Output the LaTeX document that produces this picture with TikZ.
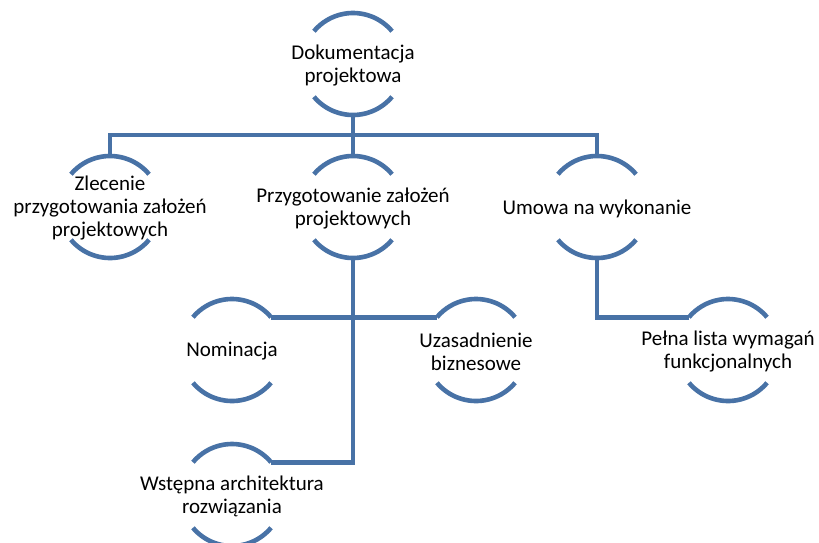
\documentclass[tikz,border=0pt]{standalone}
\usepackage{fontspec}
\setmainfont{Carlito}
\definecolor{ringblue}{RGB}{72,114,166}
\tikzset{
  ring/.style={circle, minimum size=102pt, inner sep=0pt, outer sep=0pt},
  txt/.style={align=center, font=\fontsize{21}{23}\selectfont, text=black, inner sep=0pt, yshift=-1.5pt},
  conn/.style={draw=ringblue, line width=4.6pt},
}
% draw the two open arcs of a ring node
\newcommand\ringarcs[1]{%
  \draw[conn] (#1.40) arc[start angle=40, end angle=140, radius=51pt];
  \draw[conn] (#1.220) arc[start angle=220, end angle=320, radius=51pt];
}
\begin{document}
\begin{tikzpicture}[x=1pt, y=-1pt]
\useasboundingbox (0,0) rectangle (819,542);

\node[ring, label={[txt]center:Dokumentacja\\projektowa}] (top) at (353,64) {};
\node[ring, label={[txt]center:Zlecenie\\przygotowania założeń\\projektowych}] (zl) at (110,207) {};
\node[ring, label={[txt]center:Przygotowanie założeń\\projektowych}] (pz) at (353,207) {};
\node[ring, label={[txt]center:Umowa na wykonanie}] (um) at (597,207) {};
\node[ring, label={[txt]center:Nominacja}] (nom) at (232,350) {};
\node[ring, label={[txt]center:Uzasadnienie\\biznesowe}] (uz) at (476,350) {};
\node[ring, label={[txt]center:Pełna lista wymagań\\funkcjonalnych}] (pl) at (728,350) {};
\node[ring, label={[txt]center:Wstępna architektura\\rozwiązania}] (ws) at (232,495) {};
\coordinate (bar) at (353,135);

\ringarcs{top}
\ringarcs{zl}
\ringarcs{pz}
\ringarcs{um}
\ringarcs{nom}
\ringarcs{uz}
\ringarcs{pl}
\ringarcs{ws}

% connectors
\draw[conn] (zl.north) |- (bar) -| (um.north);
\draw[conn] (top.south) -- (pz.north);
\draw[conn] (nom.40) -- (uz.140);
\draw[conn] (pz.south) |- (ws.40);
\draw[conn] (um.south) |- (pl.140);
\end{tikzpicture}
\end{document}
